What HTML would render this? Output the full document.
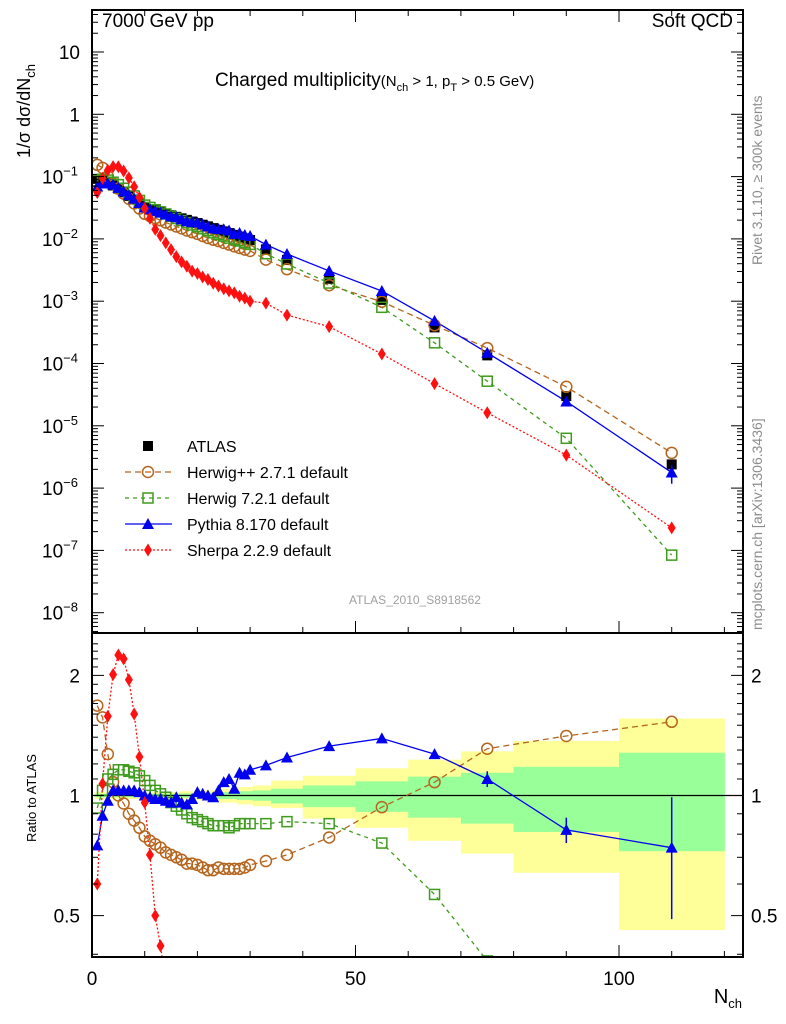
<!DOCTYPE html>
<html><head><meta charset="utf-8">
<style>
html,body{margin:0;padding:0;background:#fff;overflow:hidden;}
svg{display:block;font-family:"Liberation Sans",sans-serif;}
</style></head>
<body>
<svg id="chart" width="786" height="1024" viewBox="0 0 786 1024" xmlns="http://www.w3.org/2000/svg">
<defs>
<clipPath id="clipTop"><rect x="92" y="10" width="651" height="623"/></clipPath>
<clipPath id="clipBot"><rect x="92" y="633" width="651" height="324"/></clipPath>
</defs>
<g id="bands" clip-path="url(#clipBot)"></g>
<g id="lines"></g>
<g id="axes"></g>
<g id="texts">
<text x="102" y="27" font-size="19">7000 GeV pp</text>
<text x="733" y="27" font-size="19" text-anchor="end">Soft QCD</text>
<text x="215" y="86" font-size="19">Charged multiplicity<tspan font-size="15">(N</tspan><tspan font-size="11" dy="5">ch</tspan><tspan font-size="15" dy="-5"> &gt; 1, p</tspan><tspan font-size="11" dy="5">T</tspan><tspan font-size="15" dy="-5"> &gt; 0.5 GeV)</tspan></text>
<text transform="translate(30,158) rotate(-90)" font-size="18">1/σ dσ/dN<tspan font-size="13" dy="5">ch</tspan></text>
<text transform="translate(36,842) rotate(-90)" font-size="13">Ratio to ATLAS</text>
<text x="742" y="1003" font-size="20" text-anchor="end">N<tspan font-size="13" dy="5">ch</tspan></text>
<text transform="translate(762,265) rotate(-90)" font-size="14" fill="#8c8c8c">Rivet 3.1.10, ≥ 300k events</text>
<text transform="translate(762,630) rotate(-90)" font-size="14" fill="#8c8c8c">mcplots.cern.ch [arXiv:1306.3436]</text>
<text x="415" y="604" font-size="12" fill="#a0a0a0" text-anchor="middle">ATLAS_2010_S8918562</text>
</g>
<g id="legend"></g>
</svg>
<script>
const nch = [1,2,3,4,5,6,7,8,9,10,11,12,13,14,15,16,17,18,19,20,21,22,23,24,25,26,27,28,29,30,33,37,45,55,65,75,90,110];
const binLo = [0.5,1.5,2.5,3.5,4.5,5.5,6.5,7.5,8.5,9.5,10.5,11.5,12.5,13.5,14.5,15.5,16.5,17.5,18.5,19.5,20.5,21.5,22.5,23.5,24.5,25.5,26.5,27.5,28.5,29.5,30.5,34,40,50,60,70,80,100];
const binHi = [1.5,2.5,3.5,4.5,5.5,6.5,7.5,8.5,9.5,10.5,11.5,12.5,13.5,14.5,15.5,16.5,17.5,18.5,19.5,20.5,21.5,22.5,23.5,24.5,25.5,26.5,27.5,28.5,29.5,30.5,34,40,50,60,70,80,100,120];
const atlas = [0.092,0.088,0.08,0.072,0.064,0.056,0.049,0.043,0.037,0.032,0.0302,0.0285,0.0269,0.0254,0.024,0.0226,0.0214,0.0202,0.019,0.018,0.0169,0.0159,0.0149,0.014,0.0132,0.0124,0.0116,0.0109,0.0102,0.0096,0.0068,0.0046,0.0023,0.00105,0.00038,0.000135,0.00003,0.0000024];
const ratioHerwigPP = [1.68,1.57,1.27,1.08,1.0,0.955,0.90,0.865,0.83,0.79,0.77,0.755,0.74,0.72,0.71,0.70,0.69,0.675,0.675,0.67,0.66,0.65,0.65,0.66,0.655,0.655,0.655,0.655,0.66,0.67,0.685,0.71,0.785,0.935,1.08,1.31,1.41,1.53];
const ratioHerwig7 = [0.93,1.03,1.10,1.13,1.16,1.16,1.15,1.14,1.12,1.09,1.06,1.03,1.01,0.99,0.96,0.94,0.92,0.90,0.88,0.87,0.86,0.85,0.84,0.84,0.84,0.83,0.84,0.85,0.85,0.85,0.85,0.86,0.85,0.76,0.565,0.385,0.21,0.035];
const ratioPythia = [0.75,0.89,0.97,1.03,1.03,1.03,1.03,1.03,1.02,1.0,0.99,0.98,0.98,0.97,0.96,0.99,0.96,0.95,0.98,1.02,1.01,1.0,0.99,1.03,1.08,1.1,1.04,1.14,1.13,1.16,1.19,1.245,1.33,1.39,1.27,1.1,0.82,0.74];
const ratioSherpa = [0.6,1.07,1.58,2.01,2.25,2.2,1.95,1.6,1.25,0.96,0.71,0.5,0.42,0.34,0.28,0.23,0.2,0.18,0.16,0.155,0.145,0.14,0.13,0.125,0.12,0.118,0.117,0.11,0.11,0.104,0.137,0.13,0.17,0.135,0.125,0.12,0.113,0.096];
const totErrUp = [0.02,0.02,0.02,0.02,0.02,0.02,0.02,0.02,0.02,0.02,0.02,0.02,0.02,0.02,0.02,0.02,0.025,0.025,0.025,0.025,0.03,0.03,0.03,0.04,0.04,0.04,0.04,0.05,0.05,0.05,0.06,0.09,0.12,0.17,0.23,0.29,0.37,0.56];
const totErrDn = [0.02,0.02,0.02,0.02,0.02,0.02,0.02,0.02,0.02,0.02,0.02,0.02,0.02,0.02,0.02,0.02,0.025,0.025,0.025,0.025,0.03,0.03,0.03,0.04,0.04,0.04,0.04,0.05,0.05,0.05,0.06,0.07,0.125,0.17,0.23,0.285,0.36,0.54];
const statErrUp = [0.01,0.01,0.01,0.01,0.01,0.01,0.01,0.01,0.01,0.01,0.01,0.01,0.01,0.01,0.01,0.01,0.012,0.012,0.012,0.012,0.015,0.015,0.015,0.02,0.02,0.02,0.02,0.025,0.025,0.025,0.03,0.04,0.06,0.085,0.115,0.14,0.18,0.28];
const statErrDn = [0.01,0.01,0.01,0.01,0.01,0.01,0.01,0.01,0.01,0.01,0.01,0.01,0.01,0.01,0.01,0.01,0.012,0.012,0.012,0.012,0.015,0.015,0.015,0.02,0.02,0.02,0.02,0.025,0.025,0.025,0.03,0.045,0.065,0.09,0.12,0.15,0.19,0.275];
const pythiaErrLo = [0,0,0,0,0,0,0,0,0,0,0,0,0,0,0,0,0,0,0,0,0,0,0,0,0,0,0,0,0,0,0,0,0,0,0.02,0.05,0.06,0.25];
const pythiaErrHi = [0,0,0,0,0,0,0,0,0,0,0,0,0,0,0,0,0,0,0,0,0,0,0,0,0,0,0,0,0,0,0,0,0,0,0.02,0.05,0.06,0.25];
const topTickLabels = ["10","1","10-1","10-2","10-3","10-4","10-5","10-6","10-7","10-8"];
const ratioTicks = [0.5,1,2];
const xTicks = [0,50,100];

const NS="http://www.w3.org/2000/svg";
const X0=92,X1=743;
const TOP=10,MID=633,BOT=957;
function sx(v){return 92+v*5.27;}
function syTop(v){return 52-(Math.log10(v)-1)*62.3;}
function syRat(r){return 795.5-Math.log10(r)*399;}
function mk(tag,attrs,parent){const e=document.createElementNS(NS,tag);for(const k in attrs)e.setAttribute(k,attrs[k]);parent.appendChild(e);return e;}

// clip polyline to vertical range [ymin,ymax], returns list of segments (arrays of points)
function clipPolyline(pts,ymin,ymax){
  const segs=[];let cur=[];
  const inside=p=>p[1]>=ymin&&p[1]<=ymax;
  for(let i=0;i<pts.length;i++){
    const p=pts[i];
    if(i>0){
      const q=pts[i-1];
      const qi=inside(q),pi=inside(p);
      if(qi&&!pi){
        const yb=p[1]>ymax?ymax:ymin;const t=(yb-q[1])/(p[1]-q[1]);
        cur.push([q[0]+t*(p[0]-q[0]),yb]);segs.push(cur);cur=[];
      } else if(!qi&&pi){
        const yb=q[1]>ymax?ymax:ymin;const t=(yb-q[1])/(p[1]-q[1]);
        cur=[[q[0]+t*(p[0]-q[0]),yb]];
      }
    }
    if(inside(p))cur.push(p);
  }
  if(cur.length)segs.push(cur);
  return segs;
}

const bands=document.getElementById('bands');
for(let i=0;i<nch.length;i++){
  const x1=sx(binLo[i]),x2=sx(binHi[i]);
  const yt=Math.max(MID,syRat(1+totErrUp[i])),yb=Math.min(BOT,syRat(1-totErrDn[i]));
  const y=mk('rect',{x:x1,y:yt,width:x2-x1+0.5,height:yb-yt,fill:'#ffff99'},bands);
  
  
}
for(let i=0;i<nch.length;i++){
  const x1=sx(binLo[i]),x2=sx(binHi[i]);
  const yt=Math.max(MID,syRat(1+statErrUp[i])),yb=Math.min(BOT,syRat(1-statErrDn[i]));
  const g=mk('rect',{x:x1,y:yt,width:x2-x1+0.5,height:yb-yt,fill:'#99ff99'},bands);
  
  
}

const lines=document.getElementById('lines');
const series=[
 {name:'herwigpp',ratio:ratioHerwigPP,color:'#b5651d',dash:'6,4',marker:'circle',width:1.3},
 {name:'herwig7',ratio:ratioHerwig7,color:'#3e9b1c',dash:'4,4',marker:'square',width:1.3},
 {name:'pythia',ratio:ratioPythia,color:'#0000ee',dash:'',marker:'triangle',width:1.3},
 {name:'sherpa',ratio:ratioSherpa,color:'#ff1010',dash:'2,2',marker:'diamond',width:1.3}
];
function drawMarker(parent,type,x,y,color,name){
  let e;
  if(type==='circle') e=mk('circle',{cx:x,cy:y,r:5.5,fill:'none',stroke:color,'stroke-width':1.5},parent);
  else if(type==='square') e=mk('rect',{x:x-5,y:y-5,width:10,height:10,fill:'none',stroke:color,'stroke-width':1.5},parent);
  else if(type==='triangle') e=mk('path',{d:`M${x},${y-6}L${x+6},${y+5}L${x-6},${y+5}Z`,fill:color},parent);
  else if(type==='diamond') e=mk('path',{d:`M${x},${y-6.5}L${x+4},${y}L${x},${y+6.5}L${x-4},${y}Z`,fill:color},parent);
  else e=mk('rect',{x:x-5,y:y-5,width:10,height:10,fill:color},parent);
  
  
  return e;
}
const gTop=mk('g',{'clip-path':'url(#clipTop)'},lines);


const gBot=mk('g',{'clip-path':'url(#clipBot)'},lines);


mk('line',{x1:X0,x2:X1,y1:syRat(1),y2:syRat(1),stroke:'#000','stroke-width':1.2},gBot);

for(const s of series){
  const ptsT=nch.map((n,i)=>[sx(n),syTop(atlas[i]*s.ratio[i])]);
  const pl=mk('polyline',{points:ptsT.map(p=>p.join(',')).join(' '),fill:'none',stroke:s.color,'stroke-width':s.width,'stroke-dasharray':s.dash},gTop);
  
  
  const ptsB=nch.map((n,i)=>[sx(n),syRat(s.ratio[i])]);
  clipPolyline(ptsB,MID,BOT).forEach(seg=>{
    if(seg.length<2)return;
    const pr=mk('polyline',{points:seg.map(p=>p.join(',')).join(' '),fill:'none',stroke:s.color,'stroke-width':s.width,'stroke-dasharray':s.dash},gBot);
    
    
  });
}
nch.forEach((n,i)=>{drawMarker(gTop,'filled-square',sx(n),syTop(atlas[i]),'#000','atlas-point');});
for(const s of series){
  nch.forEach((n,i)=>{
    drawMarker(gTop,s.marker,sx(n),syTop(atlas[i]*s.ratio[i]),s.color,s.name+'-point');
    const yr=syRat(s.ratio[i]);
    if(yr>MID-6&&yr<BOT+6) drawMarker(gBot,s.marker,sx(n),yr,s.color,s.name+'-ratio-point');
  });
}
nch.forEach((n,i)=>{
  if(pythiaErrLo[i]>0){
    const r=ratioPythia[i];
    const eb=mk('line',{x1:sx(n),x2:sx(n),y1:syRat(r+pythiaErrHi[i]),y2:syRat(r-pythiaErrLo[i]),stroke:'#0000ee','stroke-width':1.5},gBot);
    
    
    const v=atlas[i]*r;
    const et=mk('line',{x1:sx(n),x2:sx(n),y1:syTop(v*(1+pythiaErrHi[i]/r)),y2:syTop(v*(1-pythiaErrLo[i]/r)),stroke:'#0000ee','stroke-width':1.5},gTop);
    
    
  }
});

const ax=document.getElementById('axes');


mk('rect',{x:X0,y:TOP,width:X1-X0,height:MID-TOP,fill:'none',stroke:'#000','stroke-width':2},ax);
mk('rect',{x:X0,y:MID,width:X1-X0,height:BOT-MID,fill:'none',stroke:'#000','stroke-width':2},ax);
for(let v=0;v<=120;v+=10){
  const L=(v%50===0)?12:6;
  mk('line',{x1:sx(v),x2:sx(v),y1:BOT,y2:BOT-L,stroke:'#000','stroke-width':1},ax);
  mk('line',{x1:sx(v),x2:sx(v),y1:MID,y2:MID-L,stroke:'#000','stroke-width':1},ax);
  mk('line',{x1:sx(v),x2:sx(v),y1:TOP,y2:TOP+L,stroke:'#000','stroke-width':1},ax);
}
xTicks.forEach(v=>{
  const t=mk('text',{x:sx(v),y:985,'font-size':19,'text-anchor':'middle'},ax);
  t.textContent=String(v);
  
  
});
for(let d=-9;d<=1;d++){
  for(let m=1;m<10;m++){
    const v=m*Math.pow(10,d);const y=syTop(v);
    if(y<TOP||y>MID)continue;
    const L=m===1?12:6;
    mk('line',{x1:X0,x2:X0+L,y1:y,y2:y,stroke:'#000','stroke-width':1},ax);
    mk('line',{x1:X1,x2:X1-L,y1:y,y2:y,stroke:'#000','stroke-width':1},ax);
  }
}
topTickLabels.forEach((lab,i)=>{
  const y=syTop(Math.pow(10,1-i));
  const t=mk('text',{x:80,y:y+7,'font-size':19,'text-anchor':'end'},ax);
  
  
  if(lab.indexOf('-')>0){
    const parts=lab.split('10');
    t.innerHTML='10<tspan font-size="13" dy="-8">'+parts[1].replace('-','−')+'</tspan>';
    t.setAttribute('x',78);
  } else t.textContent=lab;
});
for(let r=0.4;r<=2.5;r+=0.1){
  const y=syRat(r);if(y<MID||y>BOT)continue;
  const major=Math.abs(r-0.5)<1e-6||Math.abs(r-1)<1e-6||Math.abs(r-2)<1e-6;
  const L=major?12:6;
  mk('line',{x1:X0,x2:X0+L,y1:y,y2:y,stroke:'#000','stroke-width':1},ax);
  mk('line',{x1:X1,x2:X1-L,y1:y,y2:y,stroke:'#000','stroke-width':1},ax);
}
ratioTicks.forEach(r=>{
  const y=syRat(r);
  const t=mk('text',{x:80,y:y+7,'font-size':19,'text-anchor':'end'},ax);
  t.textContent=String(r);
  
  
  const t2=mk('text',{x:751,y:y+7,'font-size':19},ax);
  t2.textContent=String(r);
  
  
});

const leg=document.getElementById('legend');
const legItems=[
 {label:'ATLAS',marker:'filled-square',color:'#000',dash:null},
 {label:'Herwig++ 2.7.1 default',marker:'circle',color:'#b5651d',dash:'6,4'},
 {label:'Herwig 7.2.1 default',marker:'square',color:'#3e9b1c',dash:'4,4'},
 {label:'Pythia 8.170 default',marker:'triangle',color:'#0000ee',dash:''},
 {label:'Sherpa 2.2.9 default',marker:'diamond',color:'#ff1010',dash:'2,2'}
];
legItems.forEach((it,i)=>{
  const y=446+i*26;
  const g=mk('g',{},leg);
  
  
  if(it.dash!==null) mk('line',{x1:125,x2:172,y1:y,y2:y,stroke:it.color,'stroke-width':1.3,'stroke-dasharray':it.dash},g);
  drawMarker(g,it.marker,148,y,it.color,'legend-marker');
  const t=mk('text',{x:187,y:y+6,'font-size':16},g);
  t.textContent=it.label;
  
  
});
</script>
</body></html>
